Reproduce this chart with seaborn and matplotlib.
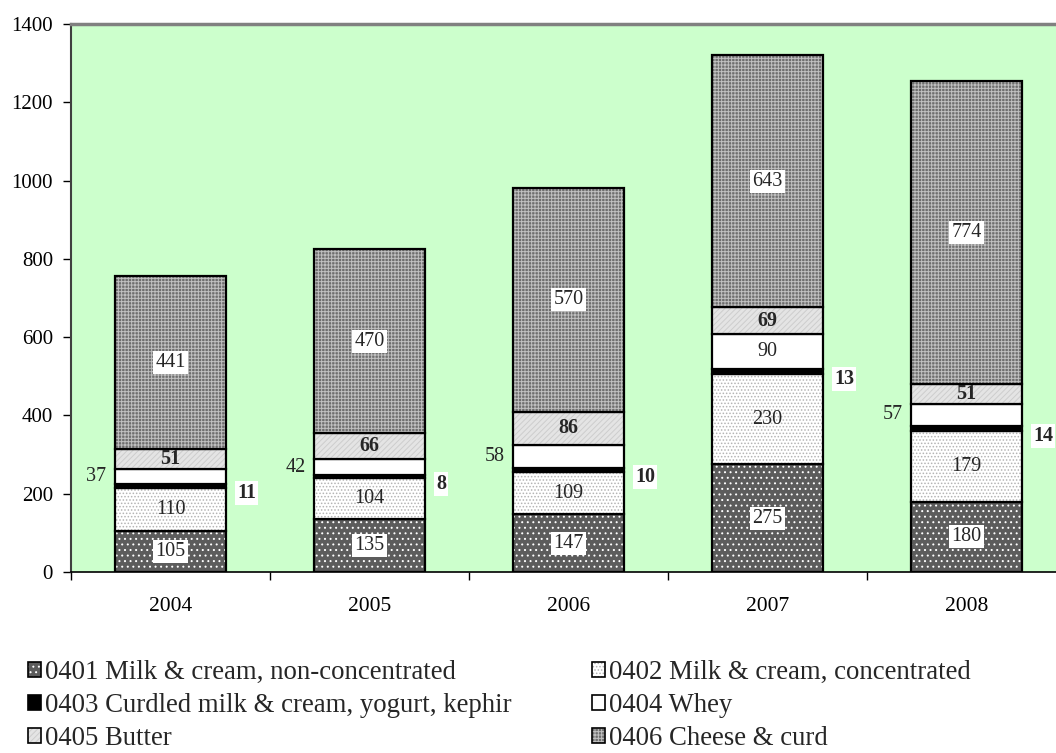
import seaborn as sns
import numpy as np
import pandas as pd
import matplotlib.pyplot as plt
from matplotlib.patches import Patch

years = ['2004', '2005', '2006', '2007', '2008']
milk_noncon = [105, 135, 147, 275, 180]   # 0401
milk_con = [110, 104, 109, 230, 179]      # 0402
curdled = [11, 8, 10, 13, 14]             # 0403
whey = [37, 42, 58, 90, 57]               # 0404
butter = [51, 66, 86, 69, 51]             # 0405
cheese = [441, 470, 570, 643, 774]        # 0406

names = ['0401 Milk & cream, non-concentrated',
         '0402 Milk & cream, concentrated',
         '0403 Curdled milk & cream, yogurt, kephir',
         '0404 Whey',
         '0405 Butter',
         '0406 Cheese & curd']
series = [milk_noncon, milk_con, curdled, whey, butter, cheese]

# face colour, hatch, hatch colour
styles = [('#5c5c5c', '...', 'white'),
          ('white', '.....', '#b4b4b4'),
          ('black', '', 'black'),
          ('white', '', 'white'),
          ('#e4e4e4', '//////', '#cdcdcd'),
          ('#6e6e6e', '+++++', '#c0c0c0')]
# how the value labels sit for each series
label_mode = ['box', 'plain', 'right', 'left', 'bold', 'box']
whey_pos = ['left', 'left', 'left', 'center', 'left']

sns.set_style('white')
plt.rcParams['font.family'] = ['Liberation Serif', 'DejaVu Serif']
plt.rcParams['hatch.linewidth'] = 0.7

fig = plt.figure(figsize=(10.56, 7.53), dpi=100)
ax = fig.add_axes([71 / 1056, 181 / 753, 995 / 1056, 548 / 753])
ax.set_facecolor('#ccffcc')

bottom = np.zeros(len(years))
for vals, (fc, hatch, hc) in zip(series, styles):
    df = pd.DataFrame({'year': years, 'value': vals})
    sns.barplot(data=df, x='year', y='value', order=years, ax=ax, width=0.56,
                errorbar=None, bottom=bottom, color=fc, facecolor=fc,
                edgecolor=hc, hatch=hatch, linewidth=0)
    sns.barplot(data=df, x='year', y='value', order=years, ax=ax, width=0.56,
                errorbar=None, bottom=bottom, color='black', facecolor='none',
                edgecolor='black', linewidth=1.6)
    bottom = bottom + np.array(vals)

# value labels
bottom = np.zeros(len(years))
half_w = 0.28
for k, vals in enumerate(series):
    mode = label_mode[k]
    for i, v in enumerate(vals):
        yc = bottom[i] + v / 2
        if mode == 'box':
            ax.annotate(str(v), (i, yc), ha='center', va='center', fontsize=14.5,
                        bbox=dict(facecolor='white', edgecolor='none', pad=1.5))
        elif mode == 'plain':
            ax.annotate(str(v), (i, yc), ha='center', va='center', fontsize=14.5)
        elif mode == 'bold':
            ax.annotate(str(v), (i, yc), ha='center', va='center', fontsize=14.5,
                        fontweight='bold')
        elif mode == 'right':
            ax.annotate(str(v), (i + half_w, yc), xytext=(8, -5),
                        textcoords='offset points', ha='left', va='center',
                        fontsize=14.5, fontweight='bold',
                        bbox=dict(facecolor='white', edgecolor='none', pad=1.5))
        elif mode == 'left':
            if whey_pos[i] == 'center':
                ax.annotate(str(v), (i, yc), ha='center', va='center', fontsize=14.5)
            else:
                ax.annotate(str(v), (i - half_w, yc), xytext=(-6, 0),
                            textcoords='offset points', ha='right', va='center',
                            fontsize=14.5)
    bottom = bottom + np.array(vals)

ax.set_xlim(-0.5, 4.5)
ax.set_ylim(0, 1400)
ax.set_yticks(np.arange(0, 1401, 200))
ax.set_xticks(np.arange(-0.5, 5, 1), minor=True)
ax.set_xlabel('')
ax.set_ylabel('')
ax.tick_params(axis='x', which='major', bottom=True, length=0, pad=18,
               labelsize=15.5, colors='black')
ax.tick_params(axis='x', which='minor', bottom=True, length=6, width=1,
               direction='out', color='black')
ax.tick_params(axis='y', left=True, length=6, width=1, pad=7,
               labelsize=15, colors='black')
ax.grid(False)

ax.spines['right'].set_visible(False)
ax.spines['top'].set_color('#808080')
ax.spines['top'].set_linewidth(2.5)
ax.spines['left'].set_color('#404040')
ax.spines['left'].set_linewidth(1.5)
ax.spines['bottom'].set_color('black')
ax.spines['bottom'].set_linewidth(1.2)

handles = []
for fc, hatch, hc in styles:
    handles.append((Patch(facecolor=fc, hatch=hatch, edgecolor=hc, linewidth=0),
                    Patch(facecolor='none', edgecolor='black', linewidth=1.2)))

leg_kw = dict(loc='upper left', frameon=False, fontsize=19.3, handlelength=0.5,
              handleheight=0.5, handletextpad=0.15, labelspacing=0.3,
              borderpad=0, borderaxespad=0)
left_idx = [0, 2, 4]
right_idx = [1, 3, 5]
fig.legend([handles[i] for i in left_idx], [names[i] for i in left_idx],
           bbox_to_anchor=(28 / 1056, 1 - 660 / 753), **leg_kw)
fig.legend([handles[i] for i in right_idx], [names[i] for i in right_idx],
           bbox_to_anchor=(592 / 1056, 1 - 660 / 753), **leg_kw)

fig.savefig('out.png', dpi=100)
